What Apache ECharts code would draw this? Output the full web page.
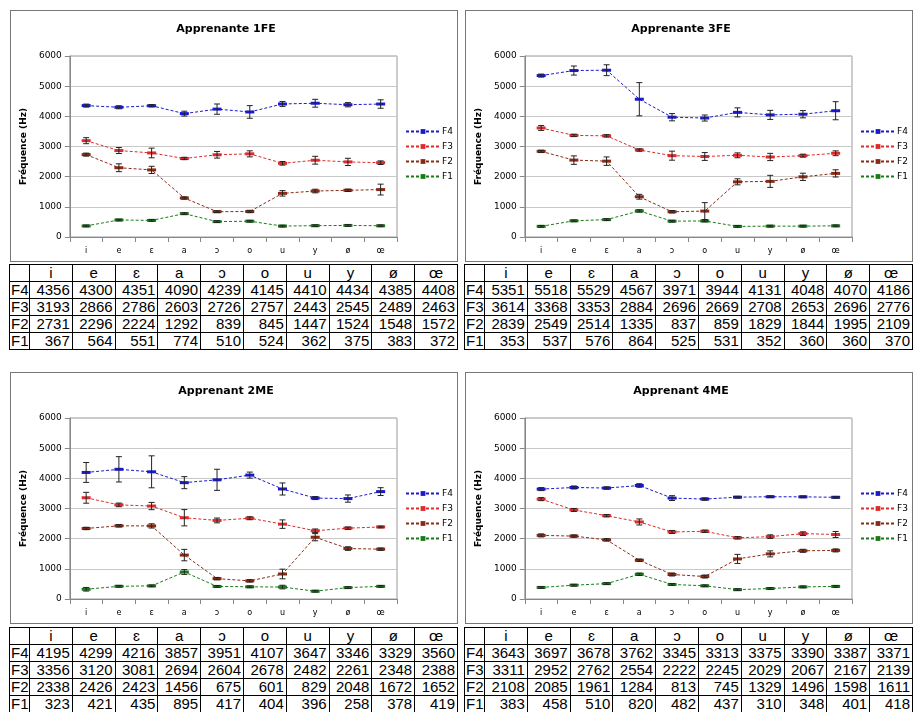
<!DOCTYPE html>
<html><head><meta charset="utf-8">
<script src="https://cdn.jsdelivr.net/npm/echarts@6/dist/echarts.min.js"></script>
<style>
body{margin:0;background:#fff;width:918px;height:712px;position:relative;overflow:hidden;font-family:"Liberation Sans",Arial,sans-serif}
.box{position:absolute;width:446px;height:250px;border:1px solid #777;box-sizing:content-box}
table{position:absolute;border-collapse:collapse;width:449px;font-size:15px;table-layout:fixed}
td{border:1px solid #000;padding:0 2px;height:16px;line-height:16px;text-align:right;overflow:hidden}
td.h{text-align:center}
td.r{text-align:left;padding:0 1px}
</style></head><body>
<script>
var vowels = ["i","e","ɛ","a","ɔ","o","u","y","ø","œ"];
var formants = ["F4","F3","F2","F1"];
var colors = ["#1a1acc","#dd2a2a","#8a2a14","#1a7a1a"];

var titles = ["Apprenante 1FE","Apprenante 3FE","Apprenant 2ME","Apprenant 4ME"];

// values per panel: F4, F3, F2, F1
var p1 = [[4356,4300,4351,4090,4239,4145,4410,4434,4385,4408],
          [3193,2866,2786,2603,2726,2757,2443,2545,2489,2463],
          [2731,2296,2224,1292,839,845,1447,1524,1548,1572],
          [367,564,551,774,510,524,362,375,383,372]];
var p2 = [[5351,5518,5529,4567,3971,3944,4131,4048,4070,4186],
          [3614,3368,3353,2884,2696,2669,2708,2653,2696,2776],
          [2839,2549,2514,1335,837,859,1829,1844,1995,2109],
          [353,537,576,864,525,531,352,360,360,370]];
var p3 = [[4195,4299,4216,3857,3951,4107,3647,3346,3329,3560],
          [3356,3120,3081,2694,2604,2678,2482,2261,2348,2388],
          [2338,2426,2423,1456,675,601,829,2048,1672,1652],
          [323,421,435,895,417,404,396,258,378,419]];
var p4 = [[3643,3697,3678,3762,3345,3313,3375,3390,3387,3371],
          [3311,2952,2762,2554,2222,2245,2029,2067,2167,2139],
          [2108,2085,1961,1284,813,745,1329,1496,1598,1611],
          [383,458,510,820,482,437,310,348,401,418]];

// estimated error bar half-widths (Hz)
var e1 = [[50,50,40,80,170,210,80,130,70,140],
          [100,100,160,40,110,100,60,130,120,60],
          [50,130,120,40,30,40,90,60,40,180],
          [30,30,30,30,30,30,30,30,30,30]];
var e2 = [[50,150,180,550,120,100,150,150,120,300],
          [80,40,40,40,150,130,80,120,50,80],
          [40,140,140,80,40,280,100,200,120,120],
          [30,30,30,40,30,30,30,30,30,30]];
var e3 = [[330,420,530,200,350,100,200,50,120,130],
          [180,60,120,270,80,50,140,60,40,30],
          [40,40,70,190,40,40,160,120,60,40],
          [60,30,30,80,30,30,60,30,30,30]];
var e4 = [[50,50,40,60,80,40,30,30,30,30],
          [50,50,40,100,50,40,40,60,60,100],
          [50,40,40,40,50,50,150,100,50,50],
          [30,30,30,40,30,30,30,30,30,30]];

var panels = [
  {v:p1, e:e1, x:10, y:10, ty:264},
  {v:p2, e:e2, x:465, y:10, ty:264},
  {v:p3, e:e3, x:10, y:372, ty:627},
  {v:p4, e:e4, x:465, y:372, ty:627}
];

panels.forEach(function (p, k) {
  var div = document.createElement("div");
  div.className = "box";
  div.style.left = p.x + "px";
  div.style.top = p.y + "px";
  document.body.appendChild(div);

  var series = [];
  formants.forEach(function (f, i) {
    series.push({
      name: f, type: "line", data: p.v[i],
      symbol: "rect", symbolSize: [9, 3],
      lineStyle: {color: colors[i], type: [3, 2], width: 1},
      itemStyle: {color: colors[i]},
      z: 3
    });
    series.push({
      type: "custom", silent: true, z: 4,
      data: p.v[i].map(function (val, j) { return [j, val - p.e[i][j], val + p.e[i][j]]; }),
      renderItem: function (params, api) {
        var lo = api.coord([api.value(0), api.value(1)]);
        var hi = api.coord([api.value(0), api.value(2)]);
        var st = {stroke: "#222", lineWidth: 1};
        return {type: "group", children: [
          {type: "line", shape: {x1: lo[0], y1: lo[1], x2: hi[0], y2: hi[1]}, style: st},
          {type: "line", shape: {x1: lo[0] - 3, y1: lo[1], x2: lo[0] + 3, y2: lo[1]}, style: st},
          {type: "line", shape: {x1: hi[0] - 3, y1: hi[1], x2: hi[0] + 3, y2: hi[1]}, style: st}
        ]};
      }
    });
  });

  var chart = echarts.init(div, null, {renderer: "canvas"});
  chart.setOption({
    animation: false,
    textStyle: {fontFamily: "DejaVu Sans"},
    title: {text: titles[k], left: 210, top: 8, textAlign: "center",
      textStyle: {fontSize: 11, fontWeight: "bold", color: "#000", fontFamily: "DejaVu Sans"}},
    legend: {data: formants, orient: "vertical", left: 394, top: 116, itemGap: 6, padding: 0,
      itemWidth: 34, itemHeight: 6, textStyle: {fontSize: 9, color: "#000", padding: [0, 0, 0, -3]}},
    grid: {left: 55, top: 45, width: 331, height: 181, show: true, borderColor: "#999", borderWidth: 1},
    xAxis: {type: "category", data: vowels, boundaryGap: true,
      axisLine: {lineStyle: {color: "#888"}}, axisTick: {show: true, lineStyle: {color: "#888"}},
      axisLabel: {fontSize: 8, color: "#000", margin: 10}},
    yAxis: {type: "value", min: 0, max: 6000, interval: 1000,
      name: "Fréquence (Hz)", nameLocation: "middle", nameGap: 33,
      nameTextStyle: {fontSize: 9, fontWeight: "bold", color: "#000"},
      axisLine: {show: true, lineStyle: {color: "#888"}}, axisTick: {show: true, lineStyle: {color: "#888"}},
      splitLine: {lineStyle: {color: "#c8c8c8"}},
      axisLabel: {fontSize: 9, color: "#000", formatter: function (v) { return String(v); }}},
    series: series
  });

  var t = document.createElement("table");
  t.style.left = (p.x - 1) + "px";
  t.style.top = p.ty + "px";
  var html = "<colgroup><col style='width:20px'>" + vowels.map(function () { return "<col>"; }).join("") + "</colgroup>";
  html += "<tr><td class='r'></td>" + vowels.map(function (v) { return "<td class='h'>" + v + "</td>"; }).join("") + "</tr>";
  formants.forEach(function (f, i) {
    html += "<tr><td class='r'>" + f + "</td>" + p.v[i].map(function (v) { return "<td>" + v + "</td>"; }).join("") + "</tr>";
  });
  t.innerHTML = html;
  document.body.appendChild(t);
});
</script>
</body></html>
